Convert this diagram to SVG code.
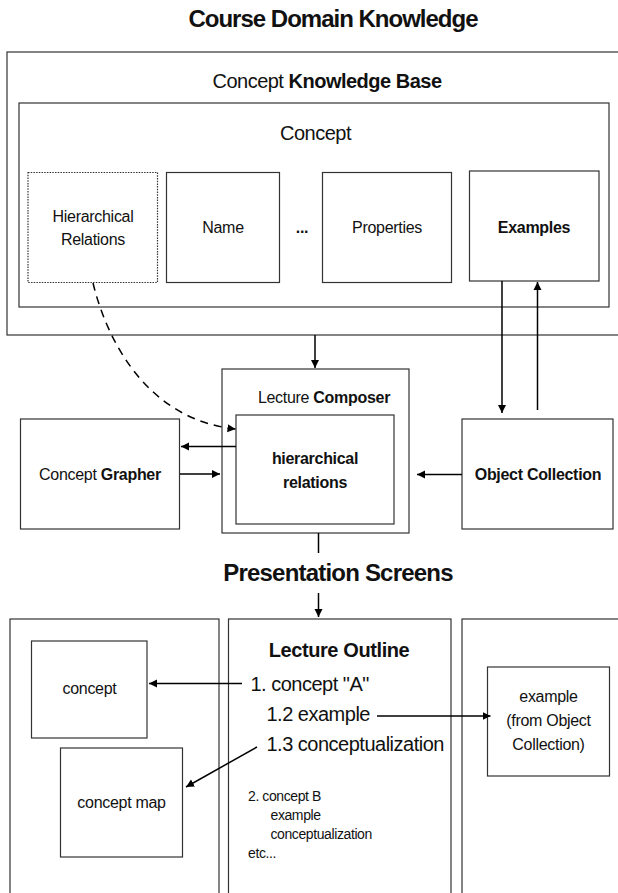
<svg xmlns="http://www.w3.org/2000/svg" width="618" height="893" viewBox="0 0 618 893">
<defs>
<marker id="ah" markerUnits="userSpaceOnUse" markerWidth="10" markerHeight="10" refX="8" refY="4.5" orient="auto">
<path d="M0,0.5 L8,4.5 L0,8.5 z" fill="#000"/>
</marker>
</defs>
<style>
text{font-family:"Liberation Sans",Arial,sans-serif;fill:#111}
.box{fill:#fff;stroke:#333;stroke-width:1.2}
.dot{fill:#fff;stroke:#333;stroke-width:1.2;stroke-dasharray:1.5 1.2}
.lbl{font-size:16px;text-anchor:middle;letter-spacing:-0.3px}
.b{font-weight:bold}
.big{font-size:20px;letter-spacing:-0.5px}
.hd{font-size:24px;font-weight:bold;text-anchor:middle}
.sm{font-size:14px;letter-spacing:-0.4px}
.arr{fill:none;stroke:#000;stroke-width:1.5;marker-end:url(#ah)}
.ln{fill:none;stroke:#000;stroke-width:1.5}
</style>
<rect width="618" height="893" fill="#fff"/>
<text id="title" class="hd" x="333" y="27" letter-spacing="-1">Course Domain Knowledge</text>
<g id="kb">
<rect class="box" x="7" y="52" width="620" height="283"/>
<text class="big" x="327" y="88" text-anchor="middle" letter-spacing="-0.4">Concept <tspan class="b">Knowledge Base</tspan></text>
</g>
<g id="concept">
<rect class="box" x="19" y="103" width="590" height="204"/>
<text class="big" x="315.5" y="140" text-anchor="middle">Concept</text>
</g>
<g id="hier">
<rect class="dot" x="28" y="172.5" width="129.5" height="110"/>
<text class="lbl" x="93" y="222">Hierarchical</text>
<text class="lbl" x="93" y="245">Relations</text>
</g>
<g id="name">
<rect class="box" x="166.5" y="172.5" width="113" height="110"/>
<text class="lbl" x="223" y="233">Name</text>
</g>
<g id="ellipsis">
<text class="lbl b" x="302" y="233" font-size="17">...</text>
</g>
<g id="properties">
<rect class="box" x="322.5" y="172.5" width="129" height="110"/>
<text class="lbl" x="387" y="233">Properties</text>
</g>
<g id="examples">
<rect class="box" x="469.5" y="171" width="129.5" height="110"/>
<text class="lbl b" x="534" y="233">Examples</text>
</g>
<g id="composer">
<rect class="box" x="222" y="369" width="187" height="164"/>
<text class="lbl" x="324" y="403">Lecture <tspan class="b">Composer</tspan></text>
<rect class="box" x="236" y="415" width="158" height="109"/>
<text class="lbl b" x="315" y="464">hierarchical</text>
<text class="lbl b" x="315" y="488">relations</text>
</g>
<g id="grapher">
<rect class="box" x="20.5" y="419" width="159" height="110"/>
<text class="lbl" x="100" y="480">Concept <tspan class="b">Grapher</tspan></text>
</g>
<g id="objcoll">
<rect class="box" x="462" y="419" width="151" height="110"/>
<text class="lbl b" x="538" y="480">Object Collection</text>
</g>
<text id="pres" class="hd" x="338" y="581" letter-spacing="-0.8">Presentation Screens</text>
<g id="leftpanel">
<rect class="box" x="10" y="619" width="209" height="300"/>
</g>
<g id="conceptbox">
<rect class="box" x="31.5" y="641" width="115.5" height="97"/>
<text class="lbl" x="89.5" y="694">concept</text>
</g>
<g id="conceptmap">
<rect class="box" x="60.5" y="748" width="122" height="109"/>
<text class="lbl" x="121.5" y="808">concept map</text>
</g>
<g id="outline">
<rect class="box" x="228.5" y="619" width="222.5" height="300"/>
<text class="b" x="339" y="657" font-size="20" text-anchor="middle" letter-spacing="-0.4">Lecture Outline</text>
<text class="big" x="250.5" y="691">1. concept "A"</text>
<text class="big" x="266.5" y="721">1.2 example</text>
<text class="big" x="266.5" y="751">1.3 conceptualization</text>
<text class="sm" x="248" y="801">2. concept B</text>
<text class="sm" x="270.5" y="820">example</text>
<text class="sm" x="270.5" y="839">conceptualization</text>
<text class="sm" x="248" y="858">etc...</text>
</g>
<g id="rightpanel">
<rect class="box" x="462" y="619" width="170" height="300"/>
</g>
<g id="examplebox">
<rect class="box" x="487.5" y="667" width="122" height="109"/>
<text class="lbl" x="548.5" y="702">example</text>
<text class="lbl" x="548.5" y="726">(from Object</text>
<text class="lbl" x="548.5" y="750">Collection)</text>
</g>
<g id="connectors">
<path class="arr" d="M315,335 L315,368"/>
<path class="arr" d="M502,281 L502,413"/>
<path class="arr" d="M537.5,410 L537.5,282"/>
<path class="arr" d="M93,283 C108,345 150,420 235.5,429" stroke-dasharray="8 6"/>
<path class="arr" d="M236,446.5 L181,446.5"/>
<path class="arr" d="M180,474 L220,474"/>
<path class="arr" d="M462,474.5 L417,474.5"/>
<path class="ln" d="M318.5,533 L318.5,553"/>
<path class="arr" d="M318.5,593 L318.5,617"/>
<path class="arr" d="M242,683.5 L149,683.5"/>
<path class="arr" d="M377,716 L490.5,716"/>
<path class="arr" d="M257,747 L186,787"/>
</g>
</svg>
